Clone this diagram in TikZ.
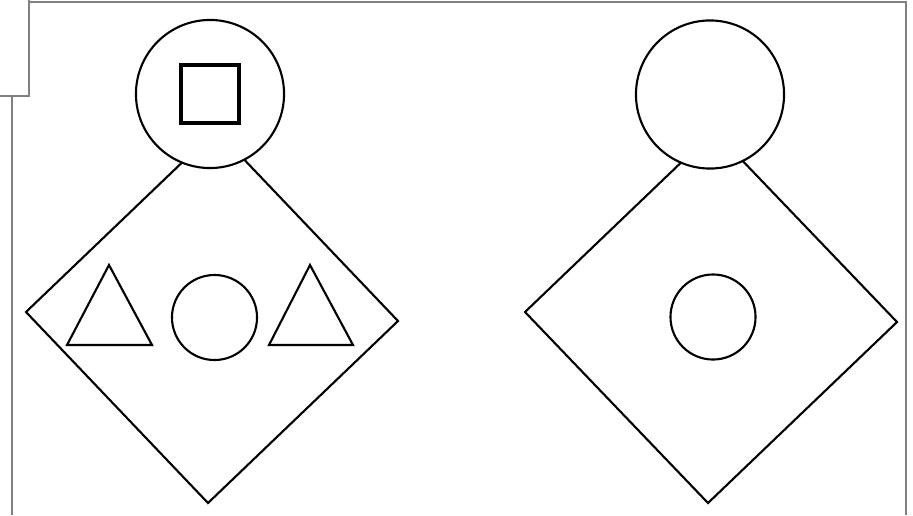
\documentclass[tikz,border=0pt]{standalone}
\usetikzlibrary{positioning}

\begin{document}
\begin{tikzpicture}[
    x=0.01cm, y=-0.01cm,
    outline/.style={draw, line width=0.6pt, line join=miter},
    frame/.style={draw=gray, line width=0.6pt},
    ring/.style={circle, draw, line width=0.6pt, fill=white, inner sep=0pt},
    head/.style={ring, minimum size=1.48cm},
    core/.style={ring, minimum size=0.85cm},
    box/.style={rectangle, draw, line width=0.9pt, inner sep=0pt, minimum size=0.58cm}
]
    \useasboundingbox (0,0) rectangle (913,515);

    % frame lines
    \draw[frame] (29,0) -- (29,96) -- (0,96);
    \draw[frame] (29,2) -- (906,2) -- (906,515);
    \draw[frame] (12,96) -- (12,515);

    % left tree
    \coordinate (ltop) at (216,130);
    \coordinate (lright) at (398,321);
    \coordinate (lbottom) at (208,503);
    \coordinate (lleft) at (26,312);
    \draw[outline] (ltop) -- (lright) -- (lbottom) -- (lleft) -- cycle;
    \node[head] (lhead) at (210,94) {};
    \node[box] (lsquare) at (lhead) {};
    \draw[outline] (67,345) -- (109,265) -- (152,345) -- cycle;
    \node[core] (lcore) at (214.5,317.5) {};
    \draw[outline] (269,345) -- (310,265) -- (353,345) -- cycle;

    % right tree
    \coordinate (rtop) at (714,131);
    \coordinate (rright) at (897,322);
    \coordinate (rbottom) at (708,503);
    \coordinate (rleft) at (525,312);
    \draw[outline] (rtop) -- (rright) -- (rbottom) -- (rleft) -- cycle;
    \node[head] (rhead) at (710,94.5) {};
    \node[core] (rcore) at (713,317) {};
\end{tikzpicture}
\end{document}
